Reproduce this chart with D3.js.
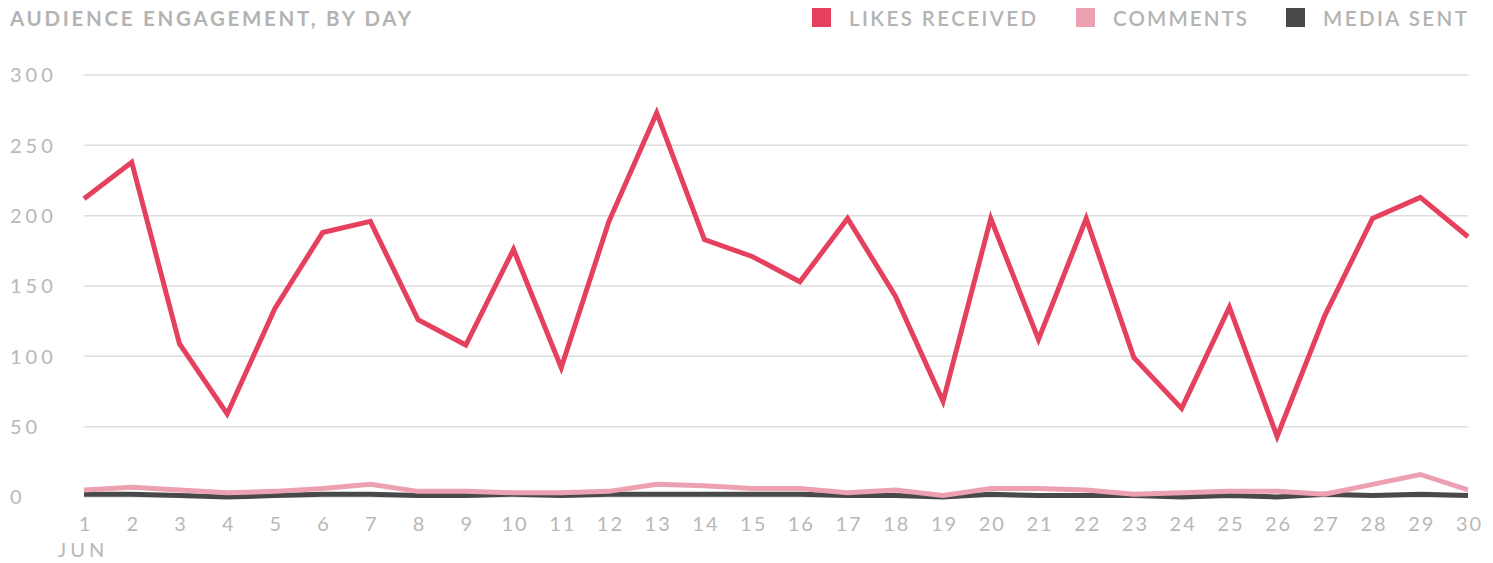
<!DOCTYPE html>
<html><head><meta charset="utf-8">
<script src="https://cdn.jsdelivr.net/npm/d3@7"></script>
<style>
html,body{margin:0;padding:0;background:#fff;}
svg{display:block;}
text{font-family:Lato,"Open Sans",sans-serif;}
</style></head>
<body>
<svg id="chart" width="1493" height="563"></svg>
<script>
const days = d3.range(1, 31);
const likesReceived = [212,238,109,59,134,188,196,126,108,176,92,196,273,183,171,153,198,143,68,198,112,198,99,63,135,43,129,198,213,185];
const comments = [5,7,5,3,4,6,9,4,4,3,3,4,9,8,6,6,3,5,1,6,6,5,2,3,4,4,2,9,16,5];
const mediaSent = [2,2,1,0,1,2,2,1,1,2,1,2,2,2,2,2,1,1,0,2,1,1,1,0,1,0,2,1,2,1];
const yTicks = [0,50,100,150,200,250,300];
const seriesNames = ["LIKES RECEIVED","COMMENTS","MEDIA SENT"];
const seriesColors = ["#e5415f","#eda0b2","#494949"];
const title = "AUDIENCE ENGAGEMENT, BY DAY";
const monthLabel = "JUN";

const svg = d3.select("#chart");
const x = d3.scaleLinear().domain([1,30]).range([84,1468]);
const y = d3.scaleLinear().domain([0,300]).range([497,75]);

// fit text to a target width by letter spacing
function fitWidth(t, target) {
  const s = t.text();
  t.attr("letter-spacing", 0);
  const w0 = t.node().getComputedTextLength();
  const ls = (target - w0) / (s.length - 1);
  t.attr("letter-spacing", ls);
  return ls;
}

// gridlines
svg.append("g").selectAll("line").data(yTicks).join("line")
  .attr("x1", x(1)).attr("x2", x(30))
  .attr("y1", d=>y(d)).attr("y2", d=>y(d))
  .attr("stroke","#dedede").attr("stroke-width",1.5);

// y labels
svg.append("g").selectAll("text").data(yTicks).join("text")
  .attr("x",10).attr("y",d=>y(d)).attr("dy","0.36em")
  .attr("fill","#b8b8b8").attr("font-size",20).attr("letter-spacing",4)
  .text(d=>d);

// x labels
const xAxis = d3.axisBottom(x).tickValues(days).tickSize(0).tickPadding(0).tickFormat(d3.format("d"));
const gx = svg.append("g").call(xAxis);
gx.select(".domain").remove();
gx.selectAll("text").attr("y",531).attr("dy",0)
  .attr("fill","#b8b8b8").attr("font-size",20).attr("letter-spacing",2)
  .attr("font-family","Lato, 'Open Sans', sans-serif")
  .attr("dx",1);
svg.append("text").attr("x",x(1)).attr("y",557).attr("text-anchor","middle")
  .attr("fill","#b8b8b8").attr("font-size",20).attr("letter-spacing",4).attr("dx",-1)
  .text(monthLabel);

// lines (media first, then comments, then likes on top)
const seriesData = [likesReceived, comments, mediaSent];
const line = d3.line().x((d,i)=>x(days[i])).y(d=>y(d));
svg.append("g").selectAll("path").data(seriesData.slice().reverse()).join("path")
  .attr("d", line).attr("fill","none")
  .attr("stroke",(d,i)=>seriesColors[2-i]).attr("stroke-width",5)
  .attr("stroke-linejoin","miter").attr("stroke-linecap","butt");

// title
const tt = svg.append("text").attr("x",10).attr("y",25.5)
  .attr("fill","#b3b3b3").attr("font-size",20.5).attr("font-weight",700)
  .attr("font-family","'Open Sans', Lato, sans-serif")
  .text(title);
fitWidth(tt, 401);

// legend
const legendTextX = [849, 1113, 1323];
const legendTextW = [187, 134, 144];
const lg = svg.append("g");
seriesNames.forEach((name, i) => {
  const t = lg.append("text").attr("x", legendTextX[i]).attr("y",25.5).attr("fill","#b3b3b3")
    .attr("font-size",20.5).attr("font-weight",600)
    .attr("font-family","'Open Sans', Lato, sans-serif")
    .text(name);
  fitWidth(t, legendTextW[i]);
  lg.append("rect").attr("x", legendTextX[i]-37).attr("y",8).attr("width",19).attr("height",19)
    .attr("fill", seriesColors[i]);
});
</script>
</body></html>
